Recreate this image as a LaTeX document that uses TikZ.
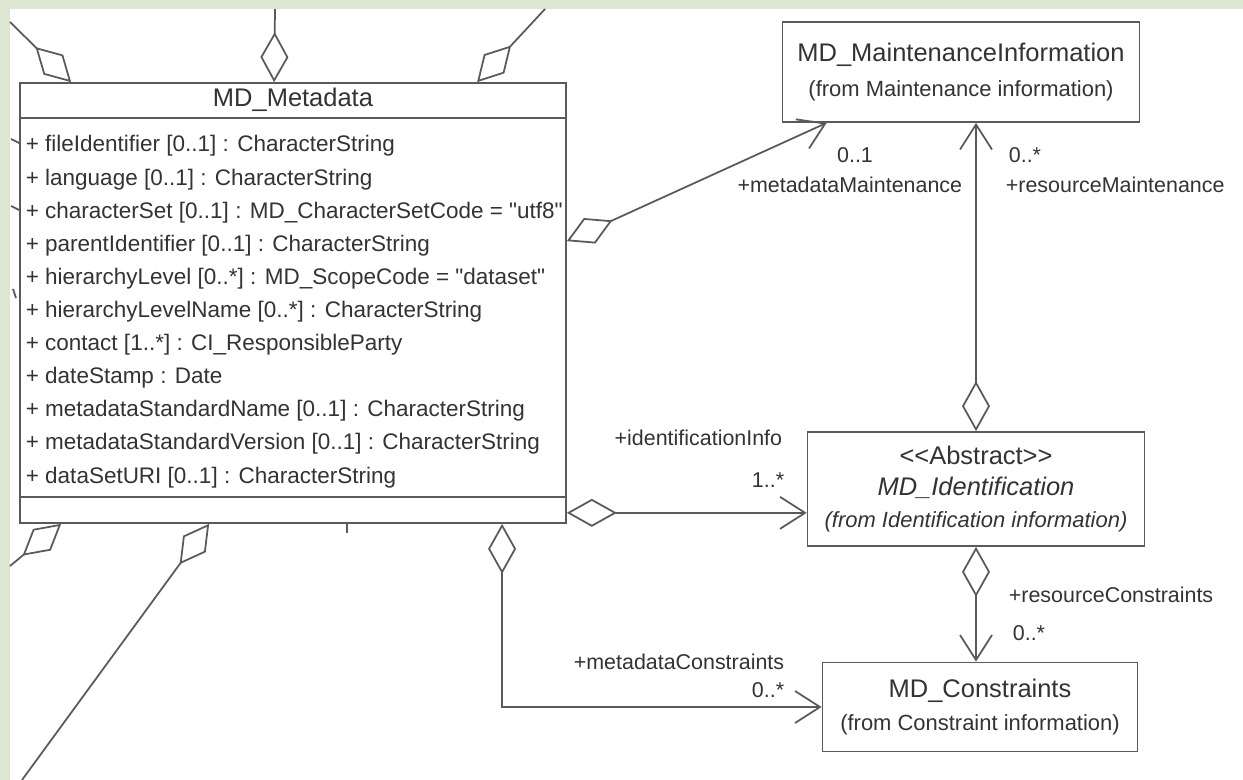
\documentclass[tikz,border=0pt]{standalone}
\usepackage{fontspec}
\setmainfont{Liberation Sans}[Ligatures=TeXOff]
\usetikzlibrary{arrows.meta}
\definecolor{bandgreen}{HTML}{DDE5D3}
\definecolor{umlline}{HTML}{5A5A5A}
\definecolor{umltext}{HTML}{333333}
\newcommand\clsfont{\fontsize{14.5}{19}\selectfont}
\newcommand\fromfont{\fontsize{12.5}{18}\selectfont}
\newcommand\attrfont{\fontsize{12.8}{18}\selectfont}
\newcommand\rolefont{\fontsize{12.2}{14}\selectfont}

\begin{document}
\begin{tikzpicture}[x=0.02cm,y=-0.02cm,line width=1pt,
    agg/.style={draw=umlline,arrows={Diamond[open,length=1cm,width=0.56cm]-Straight Barb[length=0.5cm,width=0.64cm]}},
    cut/.style={draw=umlline,arrows={Diamond[open,length=1cm,width=0.56cm]-}},
    role/.style={text=umltext,font=\rolefont,inner sep=0pt}]
  \tikzstyle{classbox}=[draw=umlline,fill=white,text=umltext,align=center,inner sep=0pt]

  \useasboundingbox (0,0) rectangle (1243,780);
  \fill[white] (0,0) rectangle (1243,780);
  \fill[bandgreen] (0,0) rectangle (1243,9);
  \fill[bandgreen] (0,0) rectangle (10,780);

  \node[classbox,minimum width=10.92cm,minimum height=8.8cm] (meta) at (293,303) {};
  \node[text=umltext,font=\clsfont] (metatitle) at (293,100) {MD\_Metadata};
  \draw[umlline] (meta.west |- 0,118) -- (meta.east |- 0,118);
  \draw[umlline] (meta.west |- 0,497) -- (meta.east |- 0,497);
  \foreach \attr [count=\i] in {
      {+ fileIdentifier [0..1] : CharacterString},
      {+ language [0..1] : CharacterString},
      {+ characterSet [0..1] : MD\_CharacterSetCode = "utf8"},
      {+ parentIdentifier [0..1] : CharacterString},
      {+ hierarchyLevel [0..*] : MD\_ScopeCode = "dataset"},
      {+ hierarchyLevelName [0..*] : CharacterString},
      {+ contact [1..*] : CI\_ResponsibleParty},
      {+ dateStamp : Date},
      {+ metadataStandardName [0..1] : CharacterString},
      {+ metadataStandardVersion [0..1] : CharacterString},
      {+ dataSetURI [0..1] : CharacterString}}
    \node[text=umltext,font=\attrfont,inner sep=0pt,anchor=base west] (attr\i) at (25,{152+33.1*(\i-1)}) {\attr};

  \node[classbox,minimum width=7.14cm,minimum height=2cm] (maint) at (961,72)
    {{\clsfont MD\_MaintenanceInformation}\\[8pt]{\fromfont (from Maintenance information)}};
  \node[classbox,minimum width=6.74cm,minimum height=2.28cm] (ident) at (976,489)
    {{\clsfont <{}<Abstract>{}>}\\[6pt]{\clsfont\itshape MD\_Identification}\\[6pt]{\fromfont\itshape (from Identification information)}};
  \node[classbox,minimum width=6.3cm,minimum height=1.78cm] (constr) at (980,707)
    {{\clsfont MD\_Constraints}\\[7pt]{\fromfont (from Constraint information)}};

  \draw[agg] ([yshift=-3.18cm]meta.north east) -- ([xshift=0.9cm]maint.south west);
  \draw[agg] (ident.north) -- (ident.north |- maint.south);
  \draw[agg] ([yshift=0.22cm]meta.south east) -- ([yshift=0.22cm]meta.south east -| ident.west);
  \draw[agg] (ident.south) -- (ident.south |- constr.north);
  \draw[agg] ([xshift=9.66cm]meta.south west) |- (constr.west);

  \node[role] (mmmult) at (855,155) {0..1};
  \node[role,anchor=east] (mmrole) at (963,185) {+metadataMaintenance};
  \node[role,anchor=west] (rmmult) at (1008,155) {0..*};
  \node[role,anchor=west] (rmrole) at (1005,185) {+resourceMaintenance};
  \node[role,anchor=east] (iirole) at (783,438) {+identificationInfo};
  \node[role,anchor=east] (iimult) at (785,480) {1..*};
  \node[role,anchor=west] (rcrole) at (1008,595) {+resourceConstraints};
  \node[role,anchor=west] (rcmult) at (1012,633) {0..*};
  \node[role,anchor=east] (mcrole) at (785,662) {+metadataConstraints};
  \node[role,anchor=east] (mcmult) at (785,690) {0..*};

  \coordinate (outtl) at (10,22);
  \coordinate (outtm) at (275,9);
  \coordinate (outtr) at (545,9);
  \coordinate (outbl) at (10,566);
  \coordinate (outbm) at (22,780);
  \draw[cut] ([xshift=1.04cm]meta.north west) -- (outtl);
  \draw[cut] ([xshift=5.1cm]meta.north west) -- (outtm);
  \draw[cut] ([xshift=9.16cm]meta.north west) -- (outtr);
  \draw[cut] ([xshift=0.84cm]meta.south west) -- (outbl);
  \draw[cut] ([xshift=3.8cm]meta.south west) -- (outbm);

  \coordinate (tick1) at (11,139);
  \coordinate (tick2) at (11,206);
  \coordinate (tick3) at (13,289);
  \coordinate (tick4) at (347,533);
  \draw[umlline] (tick1) -- (meta.west |- 0,143);
  \draw[umlline] (tick2) -- (meta.west |- 0,210);
  \draw[umlline] (tick3) -- ++(3,9);
  \draw[umlline] (tick4) -- (meta.south -| tick4);
\end{tikzpicture}
\end{document}
